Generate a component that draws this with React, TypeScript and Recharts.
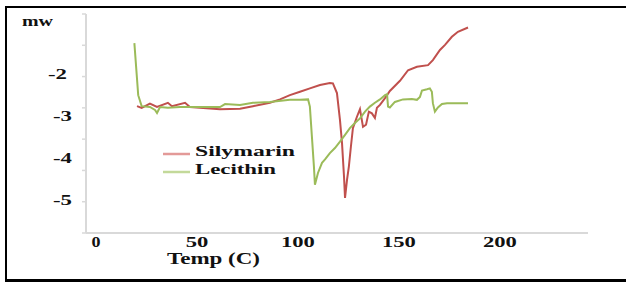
import React from 'react';
import { LineChart, Line, XAxis, YAxis } from 'recharts';

// Silymarin (red) trace
const silymarinTemp = [20.3, 22.6, 26.7, 30.2, 35.6, 37.6, 44.1, 46.5, 61.4, 71.3, 77.7, 86.1, 91.1, 96.0, 101.0, 105.9, 110.9, 115.8, 117.3, 119.3, 120.8, 121.8, 122.8, 123.3, 124.3, 125.2, 126.2, 127.2, 129.2, 130.7, 132.2, 133.7, 135.1, 136.6, 138.1, 139.1, 140.6, 143.1, 145.5, 150.5, 154.5, 158.9, 164.4, 166.8, 170.3, 172.8, 176.2, 179.2, 184.2];
const silymarinMw = [-2.76, -2.80, -2.70, -2.78, -2.68, -2.76, -2.68, -2.78, -2.83, -2.82, -2.76, -2.68, -2.60, -2.50, -2.42, -2.34, -2.26, -2.21, -2.22, -2.45, -3.09, -3.63, -4.43, -4.93, -4.50, -4.19, -3.72, -3.28, -3.01, -2.83, -3.25, -3.20, -2.89, -2.93, -3.04, -2.80, -2.73, -2.57, -2.40, -2.16, -1.91, -1.83, -1.79, -1.67, -1.43, -1.31, -1.12, -1.00, -0.90];

// Lecithin (green) trace
const lecithinTemp = [19.0, 20.9, 22.6, 26.7, 29.2, 30.2, 31.7, 35.6, 41.6, 61.4, 63.9, 71.3, 77.7, 86.1, 96.0, 101.0, 105.0, 105.9, 106.9, 107.9, 108.4, 109.9, 111.9, 113.4, 115.8, 118.3, 120.8, 123.3, 125.7, 128.2, 130.7, 133.2, 135.6, 138.1, 140.6, 143.1, 144.1, 144.6, 145.5, 148.0, 152.0, 156.4, 158.9, 160.4, 161.4, 163.9, 165.3, 166.3, 166.8, 167.8, 169.3, 171.3, 173.8, 184.2];
const lecithinMw = [-1.27, -2.50, -2.76, -2.78, -2.85, -2.92, -2.78, -2.80, -2.78, -2.78, -2.71, -2.73, -2.68, -2.66, -2.61, -2.61, -2.60, -2.77, -3.48, -4.19, -4.62, -4.34, -4.10, -4.02, -3.87, -3.75, -3.60, -3.44, -3.28, -3.16, -3.05, -2.89, -2.77, -2.68, -2.60, -2.50, -2.48, -2.77, -2.79, -2.66, -2.60, -2.59, -2.61, -2.54, -2.39, -2.36, -2.34, -2.42, -2.69, -2.89, -2.79, -2.71, -2.69, -2.69];

const xTicks = [0, 50, 100, 150, 200];
const yLabelTicks = [-2, -3, -4, -5];
const yMarkTicks = [-0.58, -1.32, -2.06, -2.8, -3.54, -4.28, -5.02, -5.76];
const seriesNames = ['Silymarin', 'Lecithin'];

const silymarinData = silymarinTemp.map((t, i) => ({ t, mw: silymarinMw[i] }));
const lecithinData = lecithinTemp.map((t, i) => ({ t, mw: lecithinMw[i] }));

const RED = '#c0504d';
const GREEN = '#9bbb59';
const AXIS = '#d9d9d9';
const FONT = '"Liberation Serif", "Times New Roman", serif';

const XTick = (props: any) => {
  const { x, payload } = props;
  const s = String(payload.value);
  return (
    <text x={x} y={247} textAnchor="middle" fontFamily={FONT} fontWeight="bold" fontSize={15} fill="#111"
      textLength={s.length === 1 ? 9 : s.length * 11.3} lengthAdjust="spacingAndGlyphs">
      {s}
    </text>
  );
};

const YTick = (props: any) => {
  const { y, payload } = props;
  const v = payload.value;
  if (yLabelTicks.includes(v)) {
    return (
      <text x={v === -2 ? 67 : 72} y={y + 4.5} textAnchor="end" fontFamily={FONT} fontWeight="bold" fontSize={14} fill="#111"
        textLength={19} lengthAdjust="spacingAndGlyphs">
        {v}
      </text>
    );
  }
  return <line x1={82} x2={86} y1={y} y2={y} stroke={AXIS} strokeWidth={1.5} />;
};

export default function App() {
  return (
    <div style={{ position: 'absolute', left: 0, top: 0, width: 626, height: 282, background: '#fff', overflow: 'hidden' }}>
      <div style={{ position: 'absolute', left: 5, top: 6, width: 621, height: 276, boxSizing: 'border-box', borderTop: '2px solid #000', borderLeft: '2px solid #000', borderBottom: '3px solid #000' }} />
      <LineChart width={626} height={282} margin={{ top: 14, right: 38, bottom: 9, left: 6 }} style={{ position: 'absolute', left: 0, top: 0 }}>
        <XAxis type="number" dataKey="t" domain={[-4.95, 243.6]} ticks={xTicks} interval={0} tick={<XTick />}
          tickLine={false} axisLine={{ stroke: AXIS, strokeWidth: 2 }} height={40} allowDataOverflow />
        <YAxis type="number" dataKey="mw" domain={[-5.76, -0.58]} ticks={[...yMarkTicks, ...yLabelTicks]} interval={0}
          tick={<YTick />} tickLine={false} axisLine={{ stroke: AXIS, strokeWidth: 2 }} width={80} allowDataOverflow />
        <Line data={silymarinData} dataKey="mw" name={seriesNames[0]} type="linear" stroke={RED} strokeWidth={2} dot={false} isAnimationActive={false} />
        <Line data={lecithinData} dataKey="mw" name={seriesNames[1]} type="linear" stroke={GREEN} strokeWidth={2} dot={false} isAnimationActive={false} />
      </LineChart>
      <svg width={626} height={282} style={{ position: 'absolute', left: 0, top: 0, pointerEvents: 'none' }}>
        <text x={22} y={26} fontFamily={FONT} fontWeight="bold" fontSize={15} fill="#111" textLength={31} lengthAdjust="spacingAndGlyphs">mw</text>
        <text x={167} y={264} fontFamily={FONT} fontWeight="bold" fontSize={16} fill="#111" textLength={93} lengthAdjust="spacingAndGlyphs">Temp (C)</text>
        <line x1={163} x2={190} y1={154} y2={154} stroke="#e39a98" strokeWidth={2.5} />
        <line x1={163} x2={190} y1={172} y2={172} stroke="#c3d99a" strokeWidth={2.5} />
        <text x={195} y={156} fontFamily={FONT} fontWeight="bold" fontSize={14} fill="#111" textLength={100} lengthAdjust="spacingAndGlyphs">{seriesNames[0]}</text>
        <text x={195} y={174} fontFamily={FONT} fontWeight="bold" fontSize={14} fill="#111" textLength={81} lengthAdjust="spacingAndGlyphs">{seriesNames[1]}</text>
      </svg>
    </div>
  );
}
